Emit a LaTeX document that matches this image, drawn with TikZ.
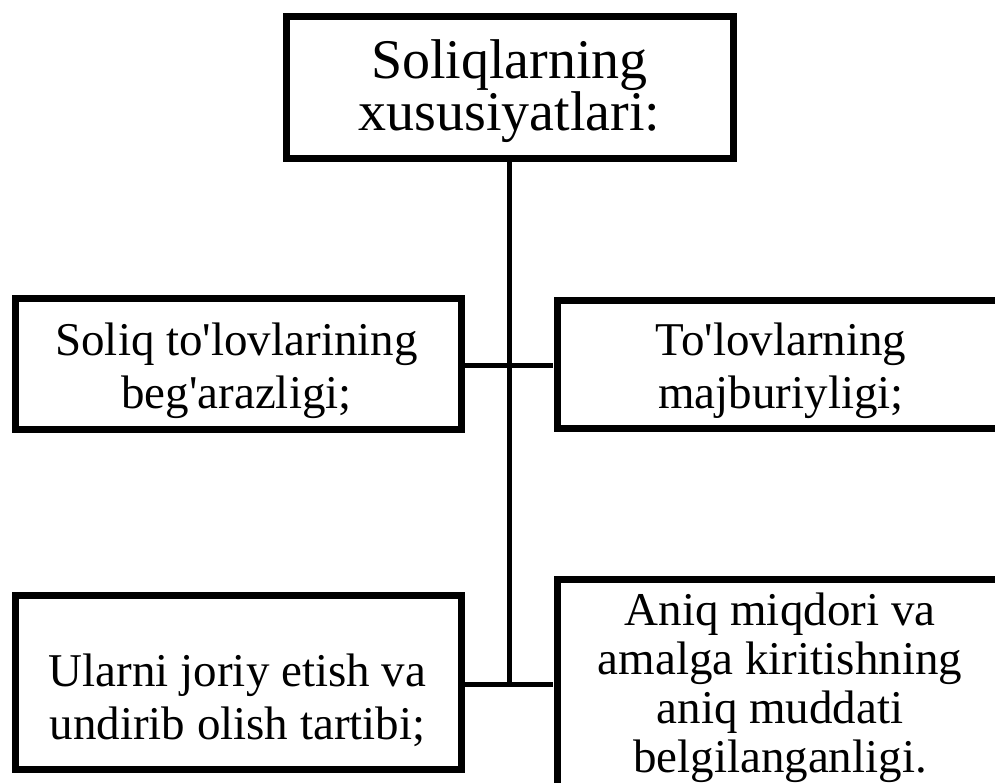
\documentclass[tikz,border=0pt]{standalone}
\usepackage{fontspec}
\setmainfont{Liberation Serif}
\usetikzlibrary{shadows}
% straight apostrophe as used in Uzbek Latin spelling
\newcommand{\uzap}{\textquotesingle}

\begin{document}
\begin{tikzpicture}[x=1pt,y=-1pt,
  box/.style={draw=black, line width=7pt, fill=white, inner sep=0pt,
    drop shadow={shadow xshift=2pt, shadow yshift=-3pt, opacity=0.22, fill=black}},
  txt/.style={align=center, inner sep=0pt, font=\fontsize{47}{53}\selectfont},
  link/.style={draw=black, line width=5pt}]
\useasboundingbox (0,0) rectangle (995,782);
\clip (0,0) rectangle (995,782);
\fill[white] (0,0) rectangle (995,782);

% connectors (drawn first, boxes sit on top)
\coordinate (spineTop) at (509.5,158);
\coordinate (midJoin) at (509.5,365);
\coordinate (lowJoin) at (509.5,684);
\coordinate (midL) at (465,365);
\coordinate (midR) at (553,365);
\coordinate (lowL) at (465,684);
\coordinate (lowR) at (553,684);
\draw[link] (spineTop) -- (lowJoin);
\draw[link] (midL) -- (midR);
\draw[link] (lowL) -- (lowR);

% boxes
\node[box, minimum width=447pt, minimum height=142pt] (head) at (509.5,87) {};
\node[box, minimum width=446pt, minimum height=131pt] (lm) at (238.5,364) {};
\node[box, minimum width=446pt, minimum height=128pt] (rm) at (780,364) {};
\node[box, minimum width=446pt, minimum height=174pt] (lb) at (238.5,682.5) {};
\node[box, minimum width=446pt, minimum height=230pt] (rb) at (780,694) {};

% texts
\node[txt, font=\fontsize{56}{52}\selectfont] (headText) at (509.5,91) {Soliqlarning\\xususiyatlari:};
\node[txt] (lmText) at (236.5,370.5) {Soliq to\uzap lovlarining\\beg\uzap arazligi;};
\node[txt] (rmText) at (781,370.5) {To\uzap lovlarning\\majburiyligi;};
\node[txt] (lbText) at (237.5,700) {Ularni joriy etish va\\undirib olish tartibi;};
\node[txt, font=\fontsize{47}{49}\selectfont] (rbText) at (780,687.5) {Aniq miqdori va\\amalga kiritishning\\aniq muddati\\belgilanganligi.};
\end{tikzpicture}
\end{document}
